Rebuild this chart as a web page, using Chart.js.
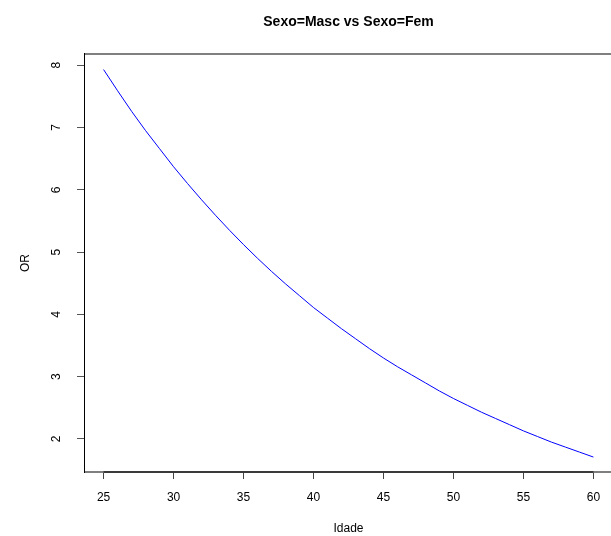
<!DOCTYPE html>
<html>
<head>
<meta charset="utf-8">
<script src="https://cdn.jsdelivr.net/npm/chart.js@4"></script>
<style>
  html, body { margin: 0; padding: 0; background: #fff; overflow: hidden; }
  #wrap { width: 620px; height: 536px; }
</style>
</head>
<body>
<div id="wrap"><canvas id="orChart" width="620" height="536"></canvas></div>
<script>
// Values
const idade = [25, 26, 27, 28, 29, 30, 31, 32, 33, 34, 35, 36, 37, 38, 39, 40, 41, 42,
               43, 44, 45, 46, 47, 48, 49, 50, 51, 52, 53, 54, 55, 56, 57, 58, 59, 60];
const orValues = [7.93, 7.59, 7.26, 6.95, 6.66, 6.37, 6.10, 5.84, 5.59, 5.35, 5.12, 4.90,
                  4.69, 4.49, 4.30, 4.11, 3.94, 3.77, 3.61, 3.45, 3.30, 3.16, 3.03, 2.90,
                  2.77, 2.65, 2.54, 2.43, 2.33, 2.23, 2.13, 2.04, 1.95, 1.87, 1.79, 1.71];
const xTicks = [25, 30, 35, 40, 45, 50, 55, 60];
const yTicks = [2, 3, 4, 5, 6, 7, 8];

const chartTitle = 'Sexo=Masc vs Sexo=Fem';
const FONT = '"Liberation Sans", Arial, Helvetica, sans-serif';

// R-style box: black left edge, grey top/bottom, darker axis segment
const rBox = {
    id: 'rBox',
    afterDraw(chart) {
        const { ctx, chartArea: a, scales } = chart;
        ctx.save();
        ctx.strokeStyle = '#7f7f7f';
        ctx.lineWidth = 2;
        ctx.beginPath();
        ctx.moveTo(a.left, a.top); ctx.lineTo(chart.width, a.top);
        ctx.moveTo(a.left, a.bottom); ctx.lineTo(chart.width, a.bottom);
        ctx.stroke();

        const x0 = scales.x.getPixelForValue(xTicks[0]);
        const x1 = scales.x.getPixelForValue(xTicks[xTicks.length - 1]);
        ctx.strokeStyle = '#3a3a3a';
        ctx.beginPath();
        ctx.moveTo(x0, a.bottom); ctx.lineTo(x1, a.bottom);
        ctx.stroke();

        ctx.strokeStyle = '#000';
        ctx.lineWidth = 1;
        ctx.beginPath();
        ctx.moveTo(a.left + 0.5, a.top - 1); ctx.lineTo(a.left + 0.5, a.bottom + 1);
        ctx.stroke();

        // main title centred over the plot region
        ctx.fillStyle = '#000';
        ctx.font = 'bold 14px ' + FONT;
        ctx.textAlign = 'center';
        ctx.textBaseline = 'middle';
        ctx.fillText(chartTitle, (a.left + a.right) / 2, 22);
        ctx.restore();
    }
};

new Chart(document.getElementById('orChart'), {
    type: 'line',
    data: {
        datasets: [{
            data: idade.map((x, i) => ({ x: x, y: orValues[i] })),
            borderColor: '#0000ff',
            borderWidth: 1,
            pointRadius: 0,
            fill: false,
            tension: 0
        }]
    },
    options: {
        responsive: false,
        devicePixelRatio: 1,
        animation: false,
        layout: { padding: { left: 0, top: 54, right: 7, bottom: 0 } },
        plugins: { legend: { display: false }, tooltip: { enabled: false } },
        scales: {
            x: {
                type: 'linear',
                min: 23.6,
                max: 61.4,
                afterBuildTicks: s => { s.ticks = xTicks.map(v => ({ value: v })); },
                afterFit: s => { s.height = 64; },
                border: { display: false },
                grid: { drawOnChartArea: false, drawTicks: true, tickLength: 7, color: '#444' },
                ticks: { color: '#000', font: { family: FONT, size: 12 }, padding: 11, maxRotation: 0 },
                title: { display: true, text: 'Idade', color: '#000', font: { family: FONT, size: 12 }, padding: { bottom: 0, top: 0 } }
            },
            y: {
                min: 1.47,
                max: 8.18,
                afterBuildTicks: s => { s.ticks = yTicks.map(v => ({ value: v })); },
                afterFit: s => { s.width = 84; },
                border: { display: false },
                grid: { drawOnChartArea: false, drawTicks: true, tickLength: 7, color: '#555' },
                ticks: { color: '#000', font: { family: FONT, size: 12 }, padding: 17, minRotation: 90, maxRotation: 90, crossAlign: 'center' },
                title: { display: true, text: 'OR', color: '#000', font: { family: FONT, size: 12 }, padding: { top: 18, bottom: 0 } }
            }
        }
    },
    plugins: [rBox]
});
</script>
</body>
</html>
